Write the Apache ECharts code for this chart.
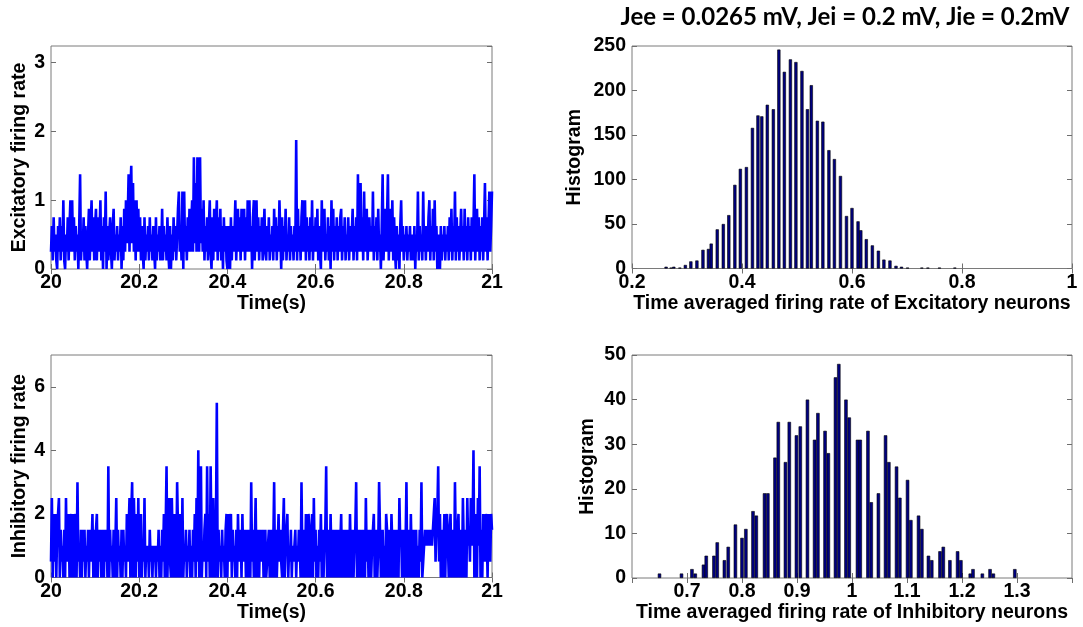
<!DOCTYPE html>
<html><head><meta charset="utf-8">
<script src="https://cdn.jsdelivr.net/npm/echarts@6/dist/echarts.min.js"></script>
<style>html,body{margin:0;padding:0;background:#fff}#c{width:1083px;height:627px}</style>
</head><body><div id="c"></div>
<script>
const timeStart = 20, timeEnd = 21;
const timeTicks = [20, 20.2, 20.4, 20.6, 20.8, 21];

// Excitatory population firing rate (sampled every ~2 ms, 20.000 .. 21.000 s)
const excRate = [
0.25,0.625,0.125,0.75,0.25,0.5,0.125,0,0.625,0.25,0.75,0.125,0.625,0.25,1.0,0.125,0,0.5,0.25,0.75,0.125,0.625,1.0,0.25,1.0,
0.25,0.75,0.125,0.625,0.25,0.5,0,0.625,1.375,0.125,0.5,0.25,0.75,0.125,0.625,0.25,0,0.5,0.875,0.125,0.625,1.0,0.25,0.75,0.125,
0.625,0.875,0.125,0.75,0.25,0.5,1.0,0.125,0.625,0,0.75,0.25,1.125,0,0.625,0.125,0.5,0.75,0.25,0,0.625,0.875,0.125,0.5,0.25,
0.625,0.125,0.5,0.25,0.75,0,0.625,0.125,0.875,0.25,1.0,0.375,0.75,1.375,0.25,1.125,1.5,0.375,1.25,0.25,1.0,0.125,1.0,0.25,0.875,
0.25,0.75,0.125,0.625,0.25,0,0.75,0.125,0.5,0.25,0.625,0.125,0.75,0.25,0.5,0.125,0.625,0.25,0,0.75,0.125,0.5,0.25,0.625,0.125,
0.25,0.875,0.125,0.625,0.25,0.5,0.125,0.75,0.25,0,0.625,0,0.5,0.125,0.75,0.25,0.625,0.125,0.5,0.875,1.125,0.25,0.625,0.125,1.125,
0,1.125,0.25,0.625,0.125,0.75,0.25,0.875,0.25,0.625,1.0,0.25,1.625,0.375,1.25,0.25,1.625,0.5,0.25,1.625,0.375,0.875,0.25,1.0,0.125,
0.625,0.25,0.75,0.125,0.625,1.0,0.25,0,0.75,0.125,0.875,0.25,0.625,1.0,0.125,0.75,0.25,0.875,0.125,0.625,0,0.75,0.25,0.625,0.125,
0,0.625,0.25,0,0.75,0.125,0.625,0.25,0.5,1.0,0.125,0.625,0.875,0.25,0.75,0.125,0.875,0.25,0.625,0.875,0.125,0.75,0.25,1.0,0.25,
1.0,0.25,0.625,0,0.75,1.0,0.125,0.625,1.0,0.25,0.75,0.125,0.625,0.25,0.75,0.125,0.5,0.875,0.25,0.125,0.625,0.25,0.75,0.125,0.5,
0.25,0.625,0.125,0.875,0.25,0.75,0.125,0.625,0.25,1.0,1.0,0,0.75,0.125,0.625,0.25,0.875,0.125,0.5,0.25,0.75,0.125,0.625,0.25,0.5,
0.125,0.625,0.25,1.875,0.125,0.875,0.25,0.625,0.125,0.75,1.0,0.25,0.625,1.0,0.125,0.75,0.25,0.625,0.125,0.75,0.25,1.0,0.125,0.625,0.25,
0.75,0.25,0.875,0.125,0.625,0.25,0,1.0,0.25,0.625,0.875,0.125,0.5,0.25,0.75,0.125,0.625,0,1.0,0.25,0.875,0.125,0.625,0.25,0.75,
0.125,0.625,0.25,0.75,0.875,0.125,0.625,0.25,0.75,0.125,0.5,0.25,0.75,0.125,0.625,0.25,0.5,0.875,0.125,0.625,0.25,0.75,0.125,1.375,0.25,
0.875,1.25,0.25,0.75,0.125,1.125,0.25,0.625,0.875,0.125,0.5,0.75,0.25,0.625,0.25,1.125,0.125,0.625,0.25,0.75,0.125,0.875,0.25,0.5,0,
0.625,1.375,0.125,0.625,0.875,0.25,0.75,1.375,0.125,0.625,0.875,0.25,1.0,0.125,0.75,0.25,0,0.625,0.125,0.5,0,0.625,1.0,0.25,0.625,
0.125,0.5,0.25,0.625,0.125,0.5,0.25,0.625,0.125,0.375,0.5,0.125,0.625,0,0.5,0.25,1.125,0.125,0.625,0.25,0.5,0.125,1.125,0.25,0.625,
0.125,0.625,0.25,0.75,1.0,0.125,0.625,0.25,0.875,0.125,1.0,0.25,0.625,0,0.5,0.25,0,0.625,0.125,0.5,0.25,0.625,0.125,0.5,0.25,
0.625,0.125,0.75,0.25,0.875,0.125,0.625,0.25,1.125,0.125,0.75,0.25,0.625,0.125,0.5,0.875,0.25,0.625,0.125,0.875,0.25,0.625,0.125,0.75,0.25,
0.625,0.125,0.75,0.25,0.625,1.375,0.125,0.625,0.875,0.25,0.75,0.125,0.625,0.25,0.75,0.125,0.625,1.25,0.25,0.75,0.125,0.625,1.125,0.25,0.625,1.125
];

// Inhibitory population firing rate (same sampling)
const inhRate = [
0.5,2.5,0,2.0,0.5,2.0,0,1.5,2.0,2.5,0,1.5,0.5,1.0,0,1.5,0,2.5,0.5,1.0,2.0,0,1.5,2.0,0,
2.0,0,1.5,2.0,0,3.0,0.5,1.0,0,1.5,0,1.5,0.5,1.5,0,1.0,0.5,1.5,0,1.5,0.5,1.0,2.0,0,1.5,
0,1.5,2.0,0,1.5,0.5,1.5,0,1.0,1.5,0,1.5,0.5,1.5,0,3.5,0,1.5,0.5,1.0,0,1.5,0,1.0,2.5,
0,1.5,0.5,1.0,0,1.5,0,1.5,0.5,1.0,0,2.0,0.5,1.5,2.5,0,2.0,3.0,0,2.5,1.0,0,2.0,0.5,2.5,
0,1.5,2.0,0,1.0,0.5,2.5,0,1.0,0.5,1.0,0,1.5,0.5,1.0,0,1.0,0.5,1.0,0,1.0,0.5,1.5,0,1.0,
0,1.5,0.5,2.0,0,1.5,3.5,0,1.5,2.5,0.5,0,2.5,1.0,0,2.0,0.5,0,3.0,1.5,0,2.0,0.5,0,2.5,
0,1.0,0.5,1.5,0,1.0,0.5,1.5,0,1.0,0,1.5,0.5,2.0,0,2.5,0.5,4.0,0,2.0,3.5,0,1.0,0.5,1.5,
2.0,0,3.5,0.5,2.0,0,3.5,1.0,0,2.5,0.5,0,1.5,5.5,0,1.5,0.5,1.0,0,1.5,0.5,1.0,0,1.5,2.0,
0,2.0,0.5,1.5,2.0,0,1.5,0.5,1.0,0,1.5,0,2.0,0.5,1.0,1.5,0,2.0,0.5,1.0,1.5,0,1.0,1.5,0,
1.5,0,3.0,0.5,1.5,0,1.0,2.5,0,1.5,0.5,0,1.5,0.5,1.0,1.5,0,1.0,1.5,0,0.5,1.0,1.5,0,1.0,
1.5,0,1.0,3.0,0,1.5,0,1.0,2.0,0.5,1.5,0.5,0,1.5,2.5,0,1.0,1.5,2.0,0,1.0,0.5,1.5,0,1.0,
0.5,1.0,1.5,0,1.0,0.5,1.5,1.0,0,3.0,0.5,0,1.5,0,2.0,0.5,0,2.0,1.5,0,1.0,2.0,0,2.5,0.5,
1.5,0,1.0,0,1.5,0.5,2.0,0,1.5,0,1.0,1.5,3.5,0,1.0,1.5,0,2.0,0.5,0,1.5,0,1.0,1.5,0,
1.0,1.5,0,1.0,2.0,0,1.5,1.0,0,1.5,0,1.0,1.5,0,2.0,0.5,0,1.5,0,1.0,1.5,3.0,0,1.0,1.5,
0,1.5,1.0,0,1.5,0.5,0,2.5,0.5,1.5,0,1.0,1.5,0,1.0,1.5,2.0,0,1.0,1.5,0,1.0,3.0,1.5,0,
1.0,1.5,0,1.0,0,2.0,1.5,0,1.0,1.5,0,2.0,1.0,0,1.5,1.0,0,1.5,0.5,0,2.5,1.0,1.5,0,1.0,
1.5,0,1.0,3.0,0,1.5,1.0,0,2.0,0.5,0,1.5,0,1.0,1.5,0,1.0,0,1.5,0.5,3.0,0,0.5,1.0,1.5,
1.0,1.5,1.0,1.0,1.5,1.0,1.5,1.0,1.5,2.0,2.5,0.5,1.5,2.0,3.5,0.5,2.0,0,1.5,0,1.0,2.0,0,1.5,2.0,
1.0,0,1.5,2.0,0,1.0,1.5,0,3.0,1.0,0,1.5,2.0,0,1.0,1.5,0,2.5,1.0,0,1.5,0,2.5,1.0,1.5,
0.5,2.5,1.0,1.5,4.0,0,2.0,1.0,0,2.5,1.0,3.5,0,1.5,0,2.0,1.0,0.5,2.0,1.5,0,2.0,1.0,0.5,2.0,1.5
];

// Histogram of time-averaged excitatory rates
const excBinCenters = [0.262,0.271,0.276,0.287,0.297,0.307,0.318,0.329,0.339,0.344,0.355,0.366,0.376,0.387,0.397,0.408,0.419,0.429,0.436,0.446,0.457,0.467,0.477,0.488,0.498,0.509,0.519,0.526,0.537,0.547,0.558,0.568,0.579,0.590,0.600,0.611,0.616,0.626,0.637,0.648,0.658,0.669,0.680,0.690,0.701,0.727,0.738,0.759,0.787];
const excCounts     = [2,1,2,1,4,8,9,21,22,28,44,50,60,94,112,114,158,172,171,184,179,246,221,235,232,222,179,206,166,165,133,123,104,59,68,53,43,33,26,20,10,9,3,2,1,1,1,1,1];

// Histogram of time-averaged inhibitory rates
const inhBinCenters = [0.650,0.690,0.709,0.715,0.730,0.735,0.749,0.755,0.768,0.775,0.788,0.800,0.807,0.820,0.826,0.841,0.847,0.860,0.866,0.879,0.886,0.899,0.906,0.919,0.932,0.938,0.951,0.957,0.970,0.976,0.989,0.995,1.010,1.015,1.029,1.035,1.048,1.061,1.067,1.081,1.087,1.101,1.107,1.121,1.127,1.139,1.145,1.160,1.166,1.178,1.192,1.198,1.215,1.220,1.237,1.251,1.257,1.296];
const inhCounts     = [1,1,2,1,3,5,5,8,4,7,12,9,11,15,14,19,19,27,35,26,35,32,34,40,31,37,33,28,45,48,40,36,31,31,33,17,19,32,26,25,18,22,13,14,11,5,4,6,7,4,6,4,1,2,1,2,1,2];

const titleText = 'Jee = 0.0265 mV, Jei = 0.2 mV, Jie = 0.2mV';

const FONT = "'Liberation Sans', Arial, Helvetica, sans-serif";
const LABEL = {color:'#000', fontFamily:FONT, fontWeight:'bold', fontSize:19.5};
const TICK = {show:true, inside:true, length:5, lineStyle:{color:'#6e6e6e', width:1}};

function timeSeries(vals) {
  const n = vals.length;
  return vals.map((v, i) => [timeStart + (timeEnd - timeStart) * i / (n - 1), v]);
}
function pairs(xs, ys) { return xs.map((x, i) => [x, ys[i]]); }

const grids = [
  {left:51, top:46, width:441, height:223},
  {left:51, top:355, width:441, height:222.5},
  {left:632, top:46, width:440, height:222.5},
  {left:632, top:355, width:440, height:223}
].map(g => Object.assign({show:true, borderColor:'#7a7a7a', borderWidth:1, backgroundColor:'rgba(0,0,0,0)'}, g));

const xAxes = [], yAxes = [];
function addX(g, min, max, interval, name, showMin, showMax) {
  xAxes.push({type:'value', gridIndex:g, position:'bottom', min, max, interval,
    axisLine:{show:false}, axisTick:TICK, splitLine:{show:false},
    axisLabel:Object.assign({margin:4, showMinLabel:showMin, showMaxLabel:showMax}, LABEL),
    name, nameLocation:'middle', nameGap:22, nameTextStyle:Object.assign({}, LABEL)});
  xAxes.push({type:'value', gridIndex:g, position:'top', min, max, interval,
    axisLine:{show:false}, axisTick:TICK, splitLine:{show:false}, axisLabel:{show:false}});
}
function addY(g, min, max, interval, name, gap, showMax) {
  yAxes.push({type:'value', gridIndex:g, position:'left', min, max, interval,
    axisLine:{show:false}, axisTick:TICK, splitLine:{show:false},
    axisLabel:Object.assign({margin:6, showMaxLabel:showMax}, LABEL),
    name, nameLocation:'middle', nameGap:gap, nameRotate:90, nameTextStyle:Object.assign({}, LABEL)});
  yAxes.push({type:'value', gridIndex:g, position:'right', min, max, interval,
    axisLine:{show:false}, axisTick:TICK, splitLine:{show:false}, axisLabel:{show:false}});
}
addX(0, timeTicks[0], timeTicks[timeTicks.length-1], 0.2, 'Time(s)', true, true);
addX(1, timeTicks[0], timeTicks[timeTicks.length-1], 0.2, 'Time(s)', true, true);
addX(2, 0.2, 1, 0.2, 'Time averaged firing rate of Excitatory neurons', true, true);
addX(3, 0.6, 1.4, 0.1, 'Time averaged firing rate of Inhibitory neurons', false, false);
addY(0, 0, 3.24, 1, 'Excitatory firing rate', 21, false);
addY(1, 0, 7, 2, 'Inhibitory firing rate', 21, false);
addY(2, 0, 250, 50, 'Histogram', 47, true);
addY(3, 0, 50, 10, 'Histogram', 34, true);

const chart = echarts.init(document.getElementById('c'), null, {renderer:'canvas'});
chart.setOption({
  animation:false,
  backgroundColor:'#fff',
  grid:grids,
  xAxis:xAxes,
  yAxis:yAxes,
  graphic:[{type:'text', x:845, y:17, style:{text:titleText, fill:'#000', textAlign:'center', textVerticalAlign:'middle',
    font:"bold 24px Lato, 'Liberation Sans', sans-serif"}}],
  series:[
    {type:'line', xAxisIndex:0, yAxisIndex:0, data:timeSeries(excRate), showSymbol:false, symbol:'none',
     lineStyle:{color:'#0000ff', width:2.6}, silent:true, clip:true},
    {type:'line', xAxisIndex:2, yAxisIndex:2, data:timeSeries(inhRate), showSymbol:false, symbol:'none',
     lineStyle:{color:'#0000ff', width:2.6}, silent:true, clip:true},
    {type:'bar', xAxisIndex:4, yAxisIndex:4, data:pairs(excBinCenters, excCounts), barWidth:3.2,
     itemStyle:{color:'#000080', borderColor:'#000', borderWidth:0.6}, silent:true},
    {type:'bar', xAxisIndex:6, yAxisIndex:6, data:pairs(inhBinCenters, inhCounts), barWidth:3.4,
     itemStyle:{color:'#000080', borderColor:'#000', borderWidth:0.6}, silent:true}
  ]
});
</script>
</body></html>
